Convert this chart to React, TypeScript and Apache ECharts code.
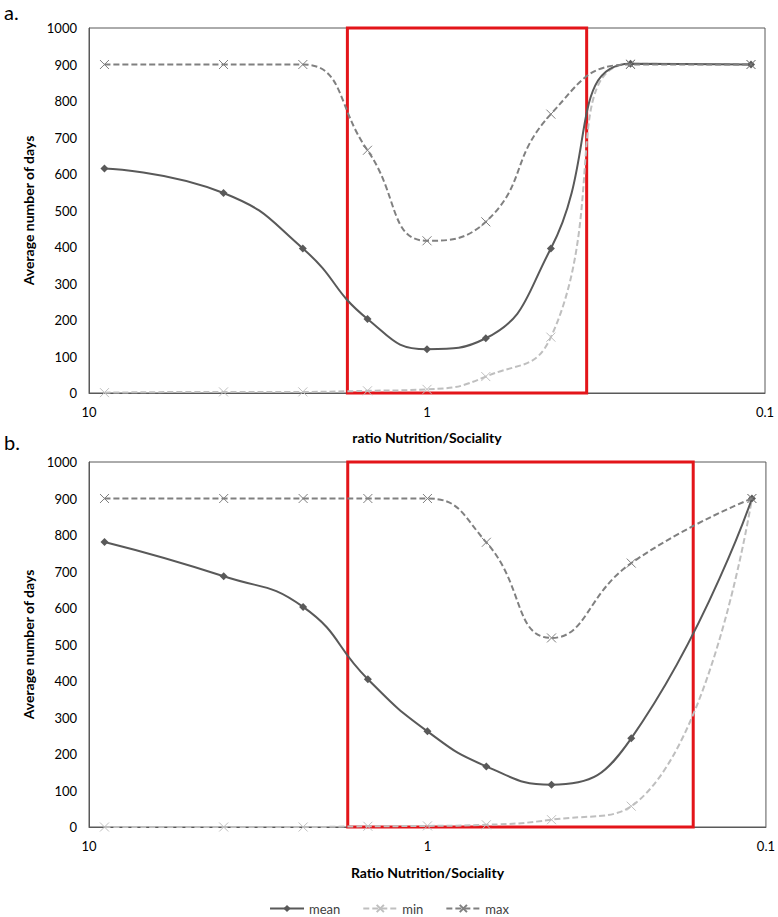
import React, { useEffect, useRef } from "react";
import * as echarts from "echarts";

const ratios = [9, 4, 2.33, 1.5, 1, 0.67, 0.43, 0.25, 0.11];
const xTicks = ["10", "1", "0.1"];

const meanA = [615, 548, 396, 203, 120, 150, 396, 902, 900];
const minA = [1, 3, 3, 6, 10, 45, 153, 902, 900];
const maxA = [900, 900, 900, 665, 417, 469, 764, 900, 900];

const meanB = [781, 687, 603, 405, 262, 166, 116, 243, 900];
const minB = [0, 0, 0, 2, 3, 6, 20, 57, 900];
const maxB = [900, 900, 900, 900, 900, 780, 518, 723, 900];

const boxA = [1.72, 0.337];
const boxB = [1.72, 0.164];

const FONT = "Lato, 'Liberation Sans', sans-serif";
const C_MEAN = "#595959";
const C_MIN = "#bfbfbf";
const C_MAX = "#808080";
const XSYM = "path://M0,0L10,10M10,0L0,10";

function pairs(vals: number[]) {
  return ratios.map((r, i) => [r, vals[i]]);
}

function mkSeries(idx: number, mean: number[], min: number[], max: number[], box: number[]) {
  return [
    {
      name: "mean",
      type: "line",
      xAxisIndex: idx,
      yAxisIndex: idx,
      data: pairs(mean),
      smooth: 0.5,
      symbol: "diamond",
      symbolSize: 8,
      showAllSymbol: true,
      lineStyle: { color: C_MEAN, width: 2 },
      itemStyle: { color: C_MEAN },
      z: 3,
    },
    {
      name: "min",
      type: "line",
      xAxisIndex: idx,
      yAxisIndex: idx,
      data: pairs(min),
      smooth: 0.5,
      symbol: XSYM,
      symbolSize: 9,
      showAllSymbol: true,
      lineStyle: { color: C_MIN, width: 2, type: [6, 3] },
      itemStyle: { color: C_MIN, borderColor: C_MIN, borderWidth: 1 },
      z: 2,
    },
    {
      name: "max",
      type: "line",
      xAxisIndex: idx,
      yAxisIndex: idx,
      data: pairs(max),
      smooth: 0.5,
      symbol: XSYM,
      symbolSize: 9,
      showAllSymbol: true,
      lineStyle: { color: C_MAX, width: 2, type: [6, 3] },
      itemStyle: { color: C_MAX, borderColor: C_MAX, borderWidth: 1 },
      z: 4,
      markArea: {
        silent: true,
        itemStyle: { color: "rgba(0,0,0,0)", borderColor: "#e3151a", borderWidth: 3 },
        data: [[{ xAxis: box[0], yAxis: 1000 }, { xAxis: box[1], yAxis: 0 }]],
      },
    },
  ];
}

function mkX(idx: number, name: string, gap: number) {
  return {
    type: "log",
    gridIndex: idx,
    logBase: 10,
    min: 0.1,
    max: 10,
    inverse: true,
    interval: 1,
    name,
    nameLocation: "middle",
    nameGap: gap,
    nameTextStyle: { fontFamily: FONT, fontSize: 14, fontWeight: "bold", color: "#000" },
    axisLine: { show: true, lineStyle: { color: "#595959", width: 1 } },
    axisTick: { show: false },
    splitLine: { show: false },
    axisLabel: {
      fontFamily: FONT,
      fontSize: 13,
      color: "#000",
      margin: 12,
      formatter: (v: number) => (v >= 10 ? xTicks[0] : v >= 1 ? xTicks[1] : xTicks[2]),
    },
  };
}

function mkY(idx: number) {
  return {
    type: "value",
    gridIndex: idx,
    min: 0,
    max: 1000,
    interval: 100,
    name: "Average number of days",
    nameLocation: "middle",
    nameGap: 50,
    nameTextStyle: { fontFamily: FONT, fontSize: 14, fontWeight: "bold", color: "#000" },
    axisLine: { show: true, lineStyle: { color: "#595959", width: 1 } },
    axisTick: { show: false },
    splitLine: { show: false },
    axisLabel: {
      fontFamily: FONT,
      fontSize: 13,
      color: "#000",
      margin: 12,
      formatter: (v: number) => String(v),
    },
  };
}

export default function App() {
  const ref = useRef<HTMLDivElement>(null);
  useEffect(() => {
    if (!ref.current) return;
    const chart = echarts.init(ref.current, null, { renderer: "svg" });
    chart.setOption({
      animation: false,
      backgroundColor: "#fff",
      textStyle: { fontFamily: FONT },
      grid: [
        { left: 89, top: 28, width: 676, height: 365, show: true, borderColor: "#595959", borderWidth: 1 },
        { left: 89, top: 462, width: 678, height: 365, show: true, borderColor: "#595959", borderWidth: 1 },
      ],
      xAxis: [mkX(0, "ratio Nutrition/Sociality", 37), mkX(1, "Ratio Nutrition/Sociality", 38)],
      yAxis: [mkY(0), mkY(1)],
      legend: {
        data: ["mean", "min", "max"],
        top: 897,
        left: "center",
        itemWidth: 34,
        itemHeight: 9,
        itemGap: 22,
        textStyle: { fontFamily: FONT, fontSize: 13, color: "#404040" },
      },
      graphic: [
        { type: "text", left: 4, top: 2, style: { text: "a.", fontFamily: FONT, fontSize: 20, fill: "#000" } },
        { type: "text", left: 4, top: 432, style: { text: "b.", fontFamily: FONT, fontSize: 20, fill: "#000" } },
      ],
      series: [...mkSeries(0, meanA, minA, maxA, boxA), ...mkSeries(1, meanB, minB, maxB, boxB)],
    });
    return () => chart.dispose();
  }, []);
  return (
    <div
      ref={ref}
      style={{ position: "absolute", left: 0, top: 0, width: 778, height: 917 }}
    />
  );
}
